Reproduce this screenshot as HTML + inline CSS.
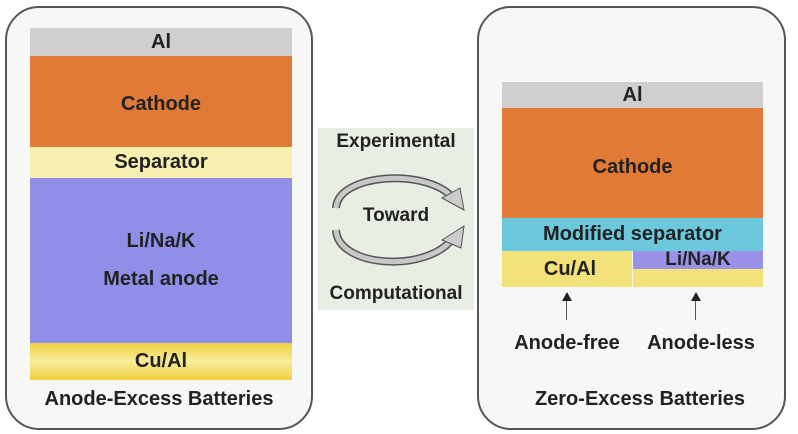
<!DOCTYPE html>
<html><head><style>
body{margin:0;width:798px;height:434px;background:#fff;position:relative;overflow:hidden;font-family:"Liberation Sans",sans-serif;font-weight:bold;color:#222}
div{position:absolute;box-sizing:border-box}
.c{display:flex;align-items:center;justify-content:center;text-align:center}
</style></head><body>
<div style="left:5px;top:6px;width:308px;height:424px;border:2px solid #555;border-radius:34px;background:#f7f7f5"></div>
<div class="c" style="left:30px;top:28px;width:262px;height:28px;background:#cfcfcf;font-size:20px">Al</div>
<div class="c" style="left:30px;top:56px;width:262px;height:91px;background:#e07a36;font-size:20px;padding-top:6px">Cathode</div>
<div class="c" style="left:30px;top:147px;width:262px;height:31px;background:#f6efb0;font-size:20px">Separator</div>
<div style="left:30px;top:178px;width:262px;height:165px;background:#8f8ee8"></div>
<div class="c" style="left:30px;top:226px;width:262px;height:30px;font-size:20px">Li/Na/K</div>
<div class="c" style="left:30px;top:264px;width:262px;height:30px;font-size:20px">Metal anode</div>
<div class="c" style="left:30px;top:343px;width:262px;height:37px;background:linear-gradient(#f0d040,#f7ec9a 50%,#f0d040);font-size:20px">Cu/Al</div>
<div class="c" style="left:5px;top:384px;width:308px;height:30px;font-size:20px">Anode-Excess Batteries</div>

<div style="left:318px;top:128px;width:156px;height:182px;background:#e9eee4"></div>
<div class="c" style="left:314px;top:128px;width:164px;height:28px;font-size:19px">Experimental</div>
<div class="c" style="left:318px;top:202px;width:156px;height:28px;font-size:19px">Toward</div>
<div class="c" style="left:314px;top:280px;width:164px;height:28px;font-size:19px">Computational</div>
<svg style="position:absolute;left:318px;top:128px" width="156" height="182">
<path d="M18 80 C20 45,110 40,135 70" fill="none" stroke="#555" stroke-width="8"/>
<path d="M18 80 C20 45,110 40,135 70" fill="none" stroke="#c8c8c8" stroke-width="5"/>
<polygon points="124,70 146,82 142,60" fill="#ccc" stroke="#555"/>
<path d="M18 102 C20 140,110 145,135 110" fill="none" stroke="#555" stroke-width="8"/>
<path d="M18 102 C20 140,110 145,135 110" fill="none" stroke="#c8c8c8" stroke-width="5"/>
<polygon points="124,112 146,98 143,120" fill="#ccc" stroke="#555"/>
</svg>

<div style="left:477px;top:6px;width:309px;height:424px;border:2px solid #555;border-radius:34px;background:#f7f7f5"></div>
<div class="c" style="left:502px;top:82px;width:261px;height:26px;background:#cfcfcf;font-size:20px">Al</div>
<div class="c" style="left:502px;top:108px;width:261px;height:110px;background:#e07a36;font-size:20px;padding-top:8px">Cathode</div>
<div class="c" style="left:502px;top:218px;width:261px;height:33px;background:#6cc8dd;font-size:20px">Modified separator</div>
<div class="c" style="left:502px;top:251px;width:130px;height:36px;background:#f3e27a;font-size:20px;padding-left:6px">Cu/Al</div>
<div class="c" style="left:633px;top:251px;width:130px;height:18px;background:#9a92e8;font-size:19px">Li/Na/K</div>
<div style="left:633px;top:269px;width:130px;height:18px;background:#f3e27a"></div>
<div style="left:566px;top:300px;width:1px;height:20px;background:#555"></div>
<div style="left:562px;top:292px;width:0;height:0;border-left:5px solid transparent;border-right:5px solid transparent;border-bottom:9px solid #222"></div>
<div style="left:695px;top:300px;width:1px;height:20px;background:#555"></div>
<div style="left:691px;top:292px;width:0;height:0;border-left:5px solid transparent;border-right:5px solid transparent;border-bottom:9px solid #222"></div>
<div class="c" style="left:498px;top:330px;width:138px;height:26px;font-size:20px">Anode-free</div>
<div class="c" style="left:632px;top:330px;width:138px;height:26px;font-size:20px">Anode-less</div>
<div class="c" style="left:500px;top:384px;width:280px;height:30px;font-size:20px">Zero-Excess Batteries</div>
</body></html>
